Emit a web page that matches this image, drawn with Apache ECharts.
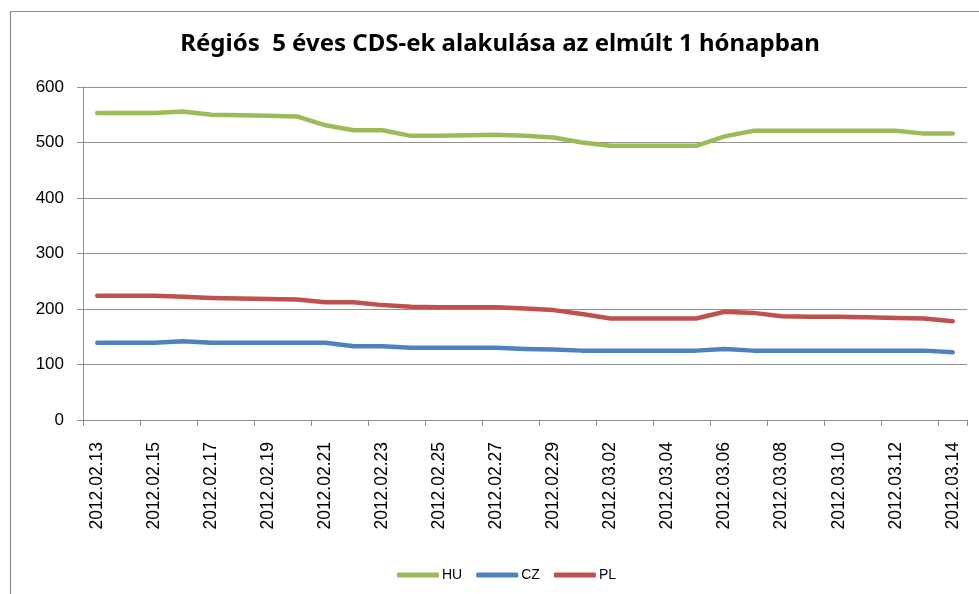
<!DOCTYPE html>
<html>
<head>
<meta charset="utf-8">
<style>
  html, body { margin: 0; padding: 0; background: #fff; }
  #chart { width: 979px; height: 594px; }
</style>
<script src="https://cdn.jsdelivr.net/npm/echarts@6/dist/echarts.min.js"></script>
</head>
<body>
<div id="chart"></div>
<script>
var titleText = 'Régiós  5 éves CDS-ek alakulása az elmúlt 1 hónapban';
var dates = [
  '2012.02.13','2012.02.14','2012.02.15','2012.02.16','2012.02.17','2012.02.18','2012.02.19',
  '2012.02.20','2012.02.21','2012.02.22','2012.02.23','2012.02.24','2012.02.25','2012.02.26',
  '2012.02.27','2012.02.28','2012.02.29','2012.03.01','2012.03.02','2012.03.03','2012.03.04',
  '2012.03.05','2012.03.06','2012.03.07','2012.03.08','2012.03.09','2012.03.10','2012.03.11',
  '2012.03.12','2012.03.13','2012.03.14'
];
var seriesNames = ['HU', 'CZ', 'PL'];
var hu = [553,553,553,556,550,549,548,547,531,522,522,512,512,513,514,512,509,500,494,494,494,494,511,521,521,521,521,521,521,516,516];
var cz = [139,139,139,142,139,139,139,139,139,133,133,130,130,130,130,128,127,125,125,125,125,125,128,125,125,125,125,125,125,125,122];
var pl = [224,224,224,222,220,219,218,217,212,212,207,204,203,203,203,201,198,191,183,183,183,183,195,193,187,186,186,185,184,183,178];
var yMin = 0, yMax = 600, yStep = 100;
var colors = ['#9BBB59', '#4F81BD', '#C0504D'];

var chart = echarts.init(document.getElementById('chart'), null, { renderer: 'canvas' });
var gridColor = '#929292';
function mkSeries(name, data, color) {
  return {
    name: name, type: 'line', data: data, symbol: 'none', smooth: false,
    lineStyle: { color: color, width: 4.5, cap: 'round', join: 'round' },
    itemStyle: { color: color },
    emphasis: { disabled: true }
  };
}
chart.setOption({
  animation: false,
  color: colors,
  graphic: [
    { type: 'rect', shape: { x: 10.5, y: 11.5, width: 1000, height: 700 },
      style: { fill: 'none', stroke: '#8c8c8c', lineWidth: 1.2 }, silent: true },
    { type: 'text', x: 500, y: 44,
      style: { text: titleText, textAlign: 'center', textVerticalAlign: 'middle',
               fontFamily: 'Noto Sans', fontWeight: 'bold', fontSize: 24, fill: '#000' } }
  ],
  legend: {
    data: seriesNames, left: 392, top: 563,
    icon: 'roundRect', itemWidth: 42, itemHeight: 5, itemGap: 14,
    textStyle: { fontFamily: 'Liberation Sans', fontSize: 14, color: '#000', padding: [0,0,0,-2] }
  },
  grid: { left: 83, right: 12, top: 87, bottom: 174, containLabel: false },
  xAxis: {
    type: 'category', data: dates, boundaryGap: true,
    axisLine: { show: true, lineStyle: { color: gridColor, width: 1 } },
    axisTick: { show: true, interval: 1, length: 6, lineStyle: { color: gridColor } },
    axisLabel: { interval: 1, rotate: 90, margin: 22, fontFamily: 'Liberation Sans',
                 fontSize: 17.5, color: '#000' },
    splitLine: { show: false }
  },
  yAxis: {
    type: 'value', min: yMin, max: yMax, interval: yStep,
    axisLine: { show: true, lineStyle: { color: gridColor, width: 1 } },
    axisTick: { show: true, inside: false, length: 6, lineStyle: { color: gridColor } },
    axisLabel: { margin: 19, fontFamily: 'Liberation Sans', fontSize: 17, color: '#000' },
    splitLine: { show: true, lineStyle: { color: gridColor, width: 1 } }
  },
  series: [ mkSeries('HU', hu, colors[0]), mkSeries('CZ', cz, colors[1]), mkSeries('PL', pl, colors[2]) ]
});
</script>
</body>
</html>
